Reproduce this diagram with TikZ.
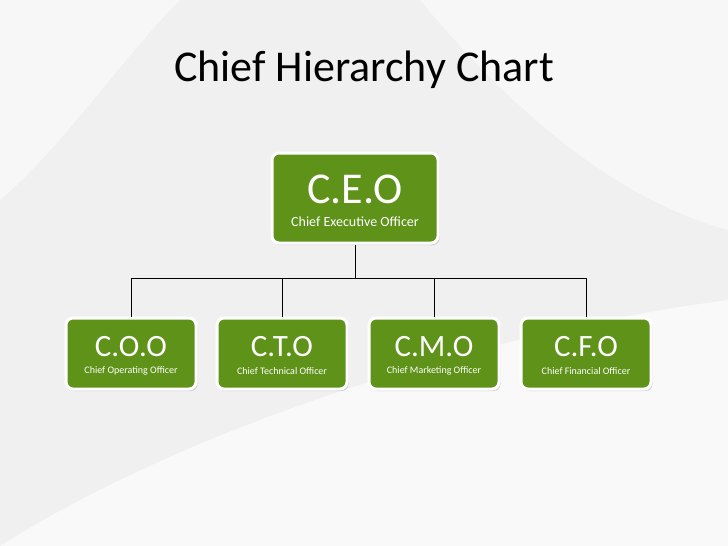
\documentclass[tikz,border=0pt]{standalone}
\usepackage{fontspec}
\setmainfont{Carlito}
\usetikzlibrary{shadows}
\definecolor{boxgreen}{HTML}{5E9218}
\definecolor{bg}{HTML}{F0F0F0}
\begin{document}
\begin{tikzpicture}[x=1pt,y=-1pt,
  box/.style={draw=white,line width=3pt,fill=boxgreen,rounded corners=7pt,
    drop shadow={shadow xshift=1.5pt,shadow yshift=-2pt,opacity=0.35},
    inner sep=0pt},
  lbl/.style={text=white,inner sep=0pt},
  conn/.style={draw=black,line width=1pt}]
\useasboundingbox (0,0) rectangle (728,546);
\fill[bg] (0,0) rectangle (728,546);
\fill[white,opacity=0.6] (0,546) .. controls (200,420) and (500,330) .. (728,300) -- (728,546) -- cycle;
\fill[white,opacity=0.5] (420,0) .. controls (520,120) and (620,200) .. (728,230) -- (728,0) -- cycle;
\fill[white,opacity=0.5] (0,0) -- (180,0) .. controls (120,60) and (60,150) .. (0,200) -- cycle;
\node[font=\fontsize{44}{48}\selectfont] (title) at (364,70) {Chief Hierarchy Chart};
\node[box,minimum width=166,minimum height=90] (ceo) at (355,198) {};
\node[lbl,font=\fontsize{44}{44}\selectfont] (ceoa) at (355,189) {C.E.O};
\node[lbl,font=\fontsize{14}{16}\selectfont] (ceob) at (355,222) {Chief Executive Officer};
\foreach \n/\x/\a/\b in {coo/131/C.O.O/Chief Operating Officer,cto/282/C.T.O/Chief Technical Officer,cmo/434/C.M.O/Chief Marketing Officer,cfo/586/C.F.O/Chief Financial Officer}{
  \node[box,minimum width=130,minimum height=71] (\n) at (\x,353.5) {};
  \node[lbl,font=\fontsize{31}{32}\selectfont] (\n a) at (\x,347) {\a};
  \node[lbl,font=\fontsize{10}{11}\selectfont] (\n b) at (\x,371) {\b};
}
\coordinate (j) at (355,278);
\draw[conn] (ceo.south) -- (j);
\draw[conn] (coo.north |- j) -- (cfo.north |- j);
\foreach \n in {coo,cto,cmo,cfo} \draw[conn] (\n.north |- j) -- (\n.north);
\end{tikzpicture}
\end{document}
